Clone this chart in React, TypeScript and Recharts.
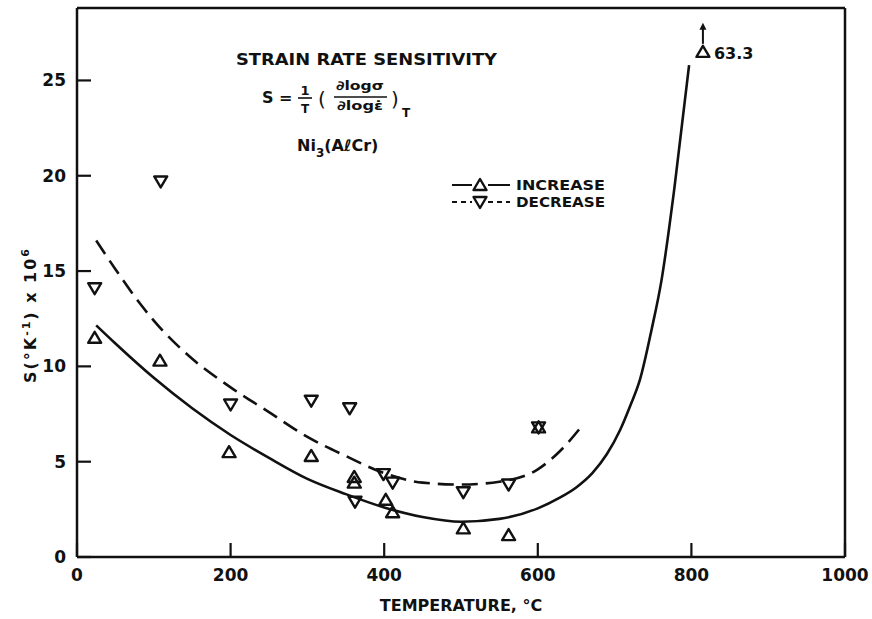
import React from "react";
import {
  ComposedChart,
  Line,
  Scatter,
  XAxis,
  YAxis,
  ReferenceLine,
  Legend,
  Label,
} from "recharts";

// measured points, temperature in °C, S in 1e-6 / °K
const increasePts = [
  { x: 23, y: 11.5 },
  { x: 108, y: 10.3 },
  { x: 198, y: 5.5 },
  { x: 305, y: 5.3 },
  { x: 361, y: 4.2 },
  { x: 361, y: 3.9 },
  { x: 402, y: 3.0 },
  { x: 411, y: 2.35 },
  { x: 503, y: 1.5 },
  { x: 562, y: 1.15 },
  { x: 601, y: 6.8 },
];

const decreasePts = [
  { x: 23, y: 14.1 },
  { x: 109, y: 19.7 },
  { x: 200, y: 8.0 },
  { x: 305, y: 8.2 },
  { x: 355, y: 7.8 },
  { x: 362, y: 2.9 },
  { x: 399, y: 4.35 },
  { x: 411, y: 3.9 },
  { x: 503, y: 3.4 },
  { x: 562, y: 3.8 },
  { x: 601, y: 6.8 },
];

// off-scale point, drawn at the top edge with an arrow
const offscalePts = [{ x: 815, y: 26.5, label: "63.3" }];

// hand-drawn fit curves
const increaseFit = [
  { x: 25, y: 12.15 },
  { x: 50, y: 11.2 },
  { x: 100, y: 9.4 },
  { x: 150, y: 7.8 },
  { x: 200, y: 6.4 },
  { x: 250, y: 5.2 },
  { x: 300, y: 4.1 },
  { x: 350, y: 3.3 },
  { x: 400, y: 2.6 },
  { x: 450, y: 2.1 },
  { x: 500, y: 1.85 },
  { x: 550, y: 2.0 },
  { x: 600, y: 2.55 },
  { x: 628, y: 3.1 },
  { x: 650, y: 3.65 },
  { x: 671, y: 4.4 },
  { x: 690, y: 5.4 },
  { x: 707, y: 6.65 },
  { x: 720, y: 7.9 },
  { x: 733, y: 9.3 },
  { x: 748, y: 11.9 },
  { x: 761, y: 14.5 },
  { x: 778, y: 19.4 },
  { x: 797, y: 25.8 },
];

const decreaseFit = [
  { x: 25, y: 16.6 },
  { x: 50, y: 15.1 },
  { x: 80, y: 13.4 },
  { x: 100, y: 12.4 },
  { x: 150, y: 10.4 },
  { x: 200, y: 8.9 },
  { x: 250, y: 7.6 },
  { x: 300, y: 6.3 },
  { x: 350, y: 5.3 },
  { x: 400, y: 4.4 },
  { x: 450, y: 3.9 },
  { x: 500, y: 3.8 },
  { x: 550, y: 3.95 },
  { x: 600, y: 4.6 },
  { x: 630, y: 5.6 },
  { x: 658, y: 6.9 },
];

const xTicks = [0, 200, 400, 600, 800, 1000];
const yTicks = [0, 5, 10, 15, 20, 25];
const yMax = 28.8;

const ink = "#111";
const font = "'DejaVu Sans', sans-serif";

const UpTri = (p: any) => {
  const { cx, cy } = p;
  return (
    <polygon
      points={`${cx},${cy - 6} ${cx - 6.5},${cy + 5} ${cx + 6.5},${cy + 5}`}
      fill="none"
      stroke={ink}
      strokeWidth={2.4}
      strokeLinejoin="round"
    />
  );
};

const DownTri = (p: any) => {
  const { cx, cy } = p;
  return (
    <polygon
      points={`${cx},${cy + 6} ${cx - 6.5},${cy - 5} ${cx + 6.5},${cy - 5}`}
      fill="none"
      stroke={ink}
      strokeWidth={2.4}
      strokeLinejoin="round"
    />
  );
};

const OffscaleTri = (p: any) => {
  const { cx, cy, payload } = p;
  return (
    <g>
      <UpTri cx={cx} cy={cy} />
      <line x1={cx} y1={cy - 8} x2={cx} y2={cy - 24} stroke={ink} strokeWidth={2} />
      <polygon points={`${cx},${cy - 29} ${cx - 3.5},${cy - 22} ${cx + 3.5},${cy - 22}`} fill={ink} />
      <text x={cx + 11} y={cy + 7} fontFamily={font} fontWeight="bold" fontSize={16} fill={ink}>
        {payload.label}
      </text>
    </g>
  );
};

const legendItems = [
  { name: "INCREASE", dash: undefined, shape: "up" },
  { name: "DECREASE", dash: "5 4", shape: "down" },
];

const LegendBox = () => (
  <svg width={170} height={44}>
    {legendItems.map((it, i) => {
      const y = 12 + i * 17;
      return (
        <g key={it.name}>
          <line x1={2} x2={60} y1={y} y2={y} stroke={ink} strokeWidth={2.2} strokeDasharray={it.dash} />
          <rect x={22} y={y - 7} width={16} height={14} fill="#fff" />
          {it.shape === "up" ? <UpTri cx={30} cy={y} /> : <DownTri cx={30} cy={y} />}
          <text x={66} y={y + 5} fontFamily={font} fontWeight="bold" fontSize={14} fill={ink} textLength={89} lengthAdjust="spacingAndGlyphs">
            {it.name}
          </text>
        </g>
      );
    })}
  </svg>
);

const YLabel = () => (
  <text
    transform="translate(36,316) rotate(-90)"
    textAnchor="middle"
    fontFamily={font}
    fontWeight="bold"
    fontSize={16}
    fill={ink}
    textLength={134}
    lengthAdjust="spacing"
  >
    S(°K
    <tspan dy={-6} fontSize={11}>-1</tspan>
    <tspan dy={6}>) x 10</tspan>
    <tspan dy={-7} fontSize={11}>6</tspan>
  </text>
);

const XLabel = () => (
  <text x={461} y={611} textAnchor="middle" fontFamily={font} fontWeight="bold" fontSize={16} fill={ink}>
    TEMPERATURE, °C
  </text>
);

const Notes = () => (
  <svg width={872} height={619} style={{ position: "absolute", left: 0, top: 0, pointerEvents: "none" }}>
    <g fontFamily={font} fontWeight="bold" fill={ink}>
      <text x={236} y={65} fontSize={16} textLength={261} lengthAdjust="spacingAndGlyphs">
        STRAIN RATE SENSITIVITY
      </text>
      <text x={262} y={103} fontSize={16}>S =</text>
      <text x={305} y={95} fontSize={13} textAnchor="middle">1</text>
      <line x1={298} x2={312} y1={98} y2={98} stroke={ink} strokeWidth={1.6} />
      <text x={305} y={113} fontSize={12} textAnchor="middle">T</text>
      <text x={318} y={106} fontSize={20} fontWeight="normal">(</text>
      <text x={336} y={90} fontSize={13} textLength={48} lengthAdjust="spacingAndGlyphs">∂logσ</text>
      <line x1={334} x2={387} y1={97} y2={97} stroke={ink} strokeWidth={1.6} />
      <text x={337} y={110} fontSize={13} textLength={46} lengthAdjust="spacingAndGlyphs">∂logε̇</text>
      <text x={391} y={106} fontSize={20} fontWeight="normal">)</text>
      <text x={402} y={117} fontSize={12}>T</text>
      <text x={297} y={151} fontSize={16}>
        Ni
        <tspan dy={6} fontSize={12}>3</tspan>
        <tspan dy={-6}>(AℓCr)</tspan>
      </text>
    </g>
  </svg>
);

export default function App() {
  return (
    <div style={{ position: "absolute", left: 0, top: 0, width: 872, height: 619, background: "#fff" }}>
      <ComposedChart width={872} height={619} margin={{ top: 8, right: 27, left: 0, bottom: 0 }}>
        <XAxis
          dataKey="x"
          type="number"
          domain={[0, 1000]}
          ticks={xTicks}
          allowDataOverflow
          height={62}
          tickSize={-14}
          tickMargin={26}
          axisLine={{ stroke: ink, strokeWidth: 2.5 }}
          tickLine={{ stroke: ink, strokeWidth: 2.2 }}
          tick={{ fill: ink, fontSize: 17, fontWeight: "bold", fontFamily: font }}
        >
          <Label content={XLabel} />
        </XAxis>
        <YAxis
          type="number"
          domain={[0, yMax]}
          ticks={yTicks}
          allowDataOverflow
          width={77}
          tickSize={-14}
          tickMargin={25}
          axisLine={{ stroke: ink, strokeWidth: 2.5 }}
          tickLine={{ stroke: ink, strokeWidth: 2.2 }}
          tick={{ fill: ink, fontSize: 17, fontWeight: "bold", fontFamily: font }}
        >
          <Label content={YLabel} />
        </YAxis>
        <ReferenceLine y={yMax} stroke={ink} strokeWidth={2.5} />
        <ReferenceLine x={1000} stroke={ink} strokeWidth={2.5} />
        <Line
          data={increaseFit}
          dataKey="y"
          type="monotone"
          stroke={ink}
          strokeWidth={2.6}
          dot={false}
          activeDot={false}
          isAnimationActive={false}
          legendType="none"
        />
        <Line
          data={decreaseFit}
          dataKey="y"
          type="monotone"
          stroke={ink}
          strokeWidth={2.6}
          strokeDasharray="16 8"
          dot={false}
          activeDot={false}
          isAnimationActive={false}
          legendType="none"
        />
        <Scatter data={increasePts} dataKey="y" shape={UpTri} isAnimationActive={false} legendType="none" />
        <Scatter data={decreasePts} dataKey="y" shape={DownTri} isAnimationActive={false} legendType="none" />
        <Scatter data={offscalePts} dataKey="y" shape={OffscaleTri} isAnimationActive={false} legendType="none" />
        <Legend
          layout="horizontal"
          verticalAlign="middle"
          align="center"
          content={LegendBox}
          wrapperStyle={{ position: "absolute", left: 450, top: 173, width: 170, bottom: "auto" }}
        />
      </ComposedChart>
      <Notes />
    </div>
  );
}
